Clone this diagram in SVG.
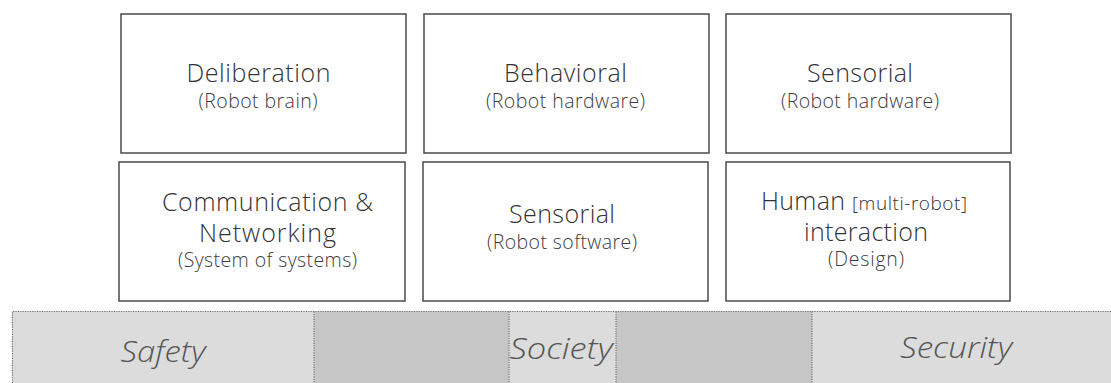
<svg xmlns="http://www.w3.org/2000/svg" width="1111" height="383" viewBox="0 0 1111 383">
<style>
.box{fill:#fff;stroke:#555;stroke-width:1.6}
.t{font-family:"Open Sans",Lato,"Liberation Sans",sans-serif;fill:#333;text-anchor:middle;font-weight:300}
.title{font-size:25px}
.sub{font-size:19.5px;fill:#3c3c3c}
.small{font-size:19px}
.band{font-family:"Open Sans",Lato,"Liberation Sans",sans-serif;font-style:italic;font-weight:300;font-size:30px;fill:#555;text-anchor:middle}
.light{fill:#dcdcdc}
.dark{fill:#c6c6c6}
.dot{stroke:#777;stroke-width:1.2;stroke-dasharray:1.2 1.2;fill:none}
</style>
<rect width="1111" height="383" fill="#fff"/>
<g id="band">
<rect class="light" x="12" y="311" width="1099" height="72"/>
<rect class="dark" x="314" y="311" width="195" height="72"/>
<rect class="dark" x="616" y="311" width="196" height="72"/>
<path class="dot" d="M12.5 383V311.5H1111M314 311.5V383M509 311.5V383M616 311.5V383M812 311.5V383"/>
<text class="band" x="163" y="362" textLength="85" lengthAdjust="spacingAndGlyphs">Safety</text>
<text class="band" x="561" y="359" textLength="103" lengthAdjust="spacingAndGlyphs">Society</text>
<text class="band" x="956" y="358" textLength="112" lengthAdjust="spacingAndGlyphs">Security</text>
</g>
<g id="n1">
<rect class="box" x="121" y="14" width="285" height="139"/>
<text class="t title" x="258.5" y="82" textLength="144">Deliberation</text>
<text class="t sub" x="258" y="108" textLength="119">(Robot brain)</text>
</g>
<g id="n2">
<rect class="box" x="424" y="14" width="285" height="139"/>
<text class="t title" x="565.5" y="82" textLength="123">Behavioral</text>
<text class="t sub" x="565.5" y="108" textLength="159">(Robot hardware)</text>
</g>
<g id="n3">
<rect class="box" x="726" y="14" width="285" height="139"/>
<text class="t title" x="860" y="82" textLength="106">Sensorial</text>
<text class="t sub" x="860" y="108" textLength="158">(Robot hardware)</text>
</g>
<g id="n4">
<rect class="box" x="119" y="162" width="286" height="139"/>
<text class="t title" x="267.5" y="211" textLength="211">Communication &amp;</text>
<text class="t title" x="267.5" y="242" textLength="137">Networking</text>
<text class="t sub" x="267.5" y="267" textLength="179">(System of systems)</text>
</g>
<g id="n5">
<rect class="box" x="423" y="162" width="285" height="139"/>
<text class="t title" x="562" y="223" textLength="106">Sensorial</text>
<text class="t sub" x="562" y="249" textLength="150">(Robot software)</text>
</g>
<g id="n6">
<rect class="box" x="726" y="162" width="284" height="139"/>
<text class="t title" x="803" y="210" textLength="84">Human</text>
<text class="t small" x="909.5" y="210" textLength="115">[multi-robot]</text>
<text class="t title" x="866" y="241" textLength="124">interaction</text>
<text class="t sub" x="866" y="266" textLength="76">(Design)</text>
</g>
<g id="connectors"/>
</svg>
